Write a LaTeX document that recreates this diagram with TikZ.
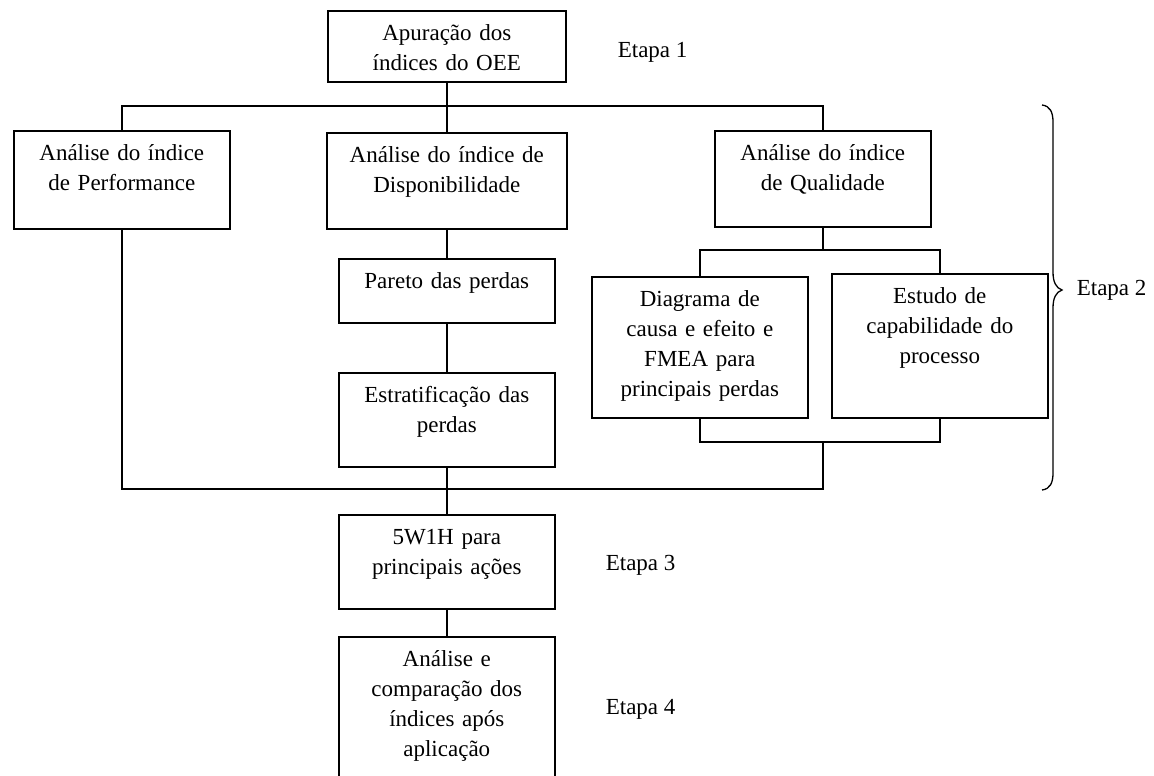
\documentclass[tikz,border=0pt]{standalone}
\usepackage{fontspec}
\setmainfont{Liberation Serif}
\begin{document}
\begin{tikzpicture}[x=1pt, y=-1pt, font=\fontsize{23}{30}\selectfont, line width=1.6pt]
	\tikzset{caixa/.style={draw, anchor=north west, text width=#1, align=center, inner xsep=0pt, inner ysep=0pt, text height=30pt},
		etapa/.style={anchor=west, inner sep=0pt}}
	\fill[white] (0,0) rectangle (1154,776);
	\useasboundingbox (0,0) rectangle (1154,776);
	% caixas
	\node[caixa=238pt, text depth=41pt] (apuracao) at (327,10) {Apuração dos\\índices do OEE};
	\node[caixa=216pt, text depth=68pt] (perf) at (13,130) {Análise do índice\\de Performance};
	\node[caixa=240pt, text depth=66pt] (disp) at (326,132) {Análise do índice de\\Disponibilidade};
	\node[caixa=216pt, text depth=66pt] (qual) at (714,130) {Análise do índice\\de Qualidade};
	\node[caixa=216pt, text depth=34pt] (pareto) at (338,258) {Pareto das perdas};
	\node[caixa=216pt, text depth=64pt] (estrat) at (338,372) {Estratificação das\\perdas};
	\node[caixa=216pt, text depth=111pt] (diag) at (591,276) {Diagrama de\\causa e efeito e\\FMEA para\\principais perdas};
	\node[caixa=216pt, text depth=114pt] (estudo) at (831,273) {Estudo de\\capabilidade do\\processo};
	\node[caixa=216pt, text depth=64pt] (w5) at (338,514) {5W1H para\\principais ações};
	\node[caixa=216pt, text depth=112pt] (analise) at (338,636) {Análise e\\comparação dos\\índices após\\aplicação};
	% etapas
	\node[etapa] (e1) at (617,52) {Etapa 1};
	\node[etapa] (e2) at (1076,290) {Etapa 2};
	\node[etapa] (e3) at (605,565) {Etapa 3};
	\node[etapa] (e4) at (605,709) {Etapa 4};
	% ligacoes
	\coordinate (topo) at (0,106);
	\coordinate (q2) at (0,250);
	\coordinate (q3) at (0,442);
	\coordinate (base) at (0,489);
	\draw (apuracao.south) -- (disp.north);
	\draw (perf.north) -- (perf.north |- topo) -- (qual.north |- topo) -- (qual.north);
	\draw (disp.south) -- (pareto.north);
	\draw (pareto.south) -- (estrat.north);
	\draw (qual.south) -- (qual.south |- q2);
	\draw (diag.north) -- (diag.north |- q2) -- (estudo.north |- q2) -- (estudo.north);
	\draw (diag.south) -- (diag.south |- q3) -- (estudo.south |- q3) -- (estudo.south);
	\draw (perf.south) -- (perf.south |- base) -- (qual.south |- base) -- (qual.south |- q3);
	\draw (estrat.south) -- (w5.north);
	\draw (w5.south) -- (analise.north);
	% chave
	\draw[line width=1.3pt] (1042,105) .. controls (1050,106) and (1053,112) .. (1053,122) -- (1053,272)
		.. controls (1053,282) and (1056,288) .. (1062,290) .. controls (1056,292) and (1053,298) .. (1053,308)
		-- (1053,473) .. controls (1053,483) and (1050,489) .. (1042,490);
\end{tikzpicture}
\end{document}
